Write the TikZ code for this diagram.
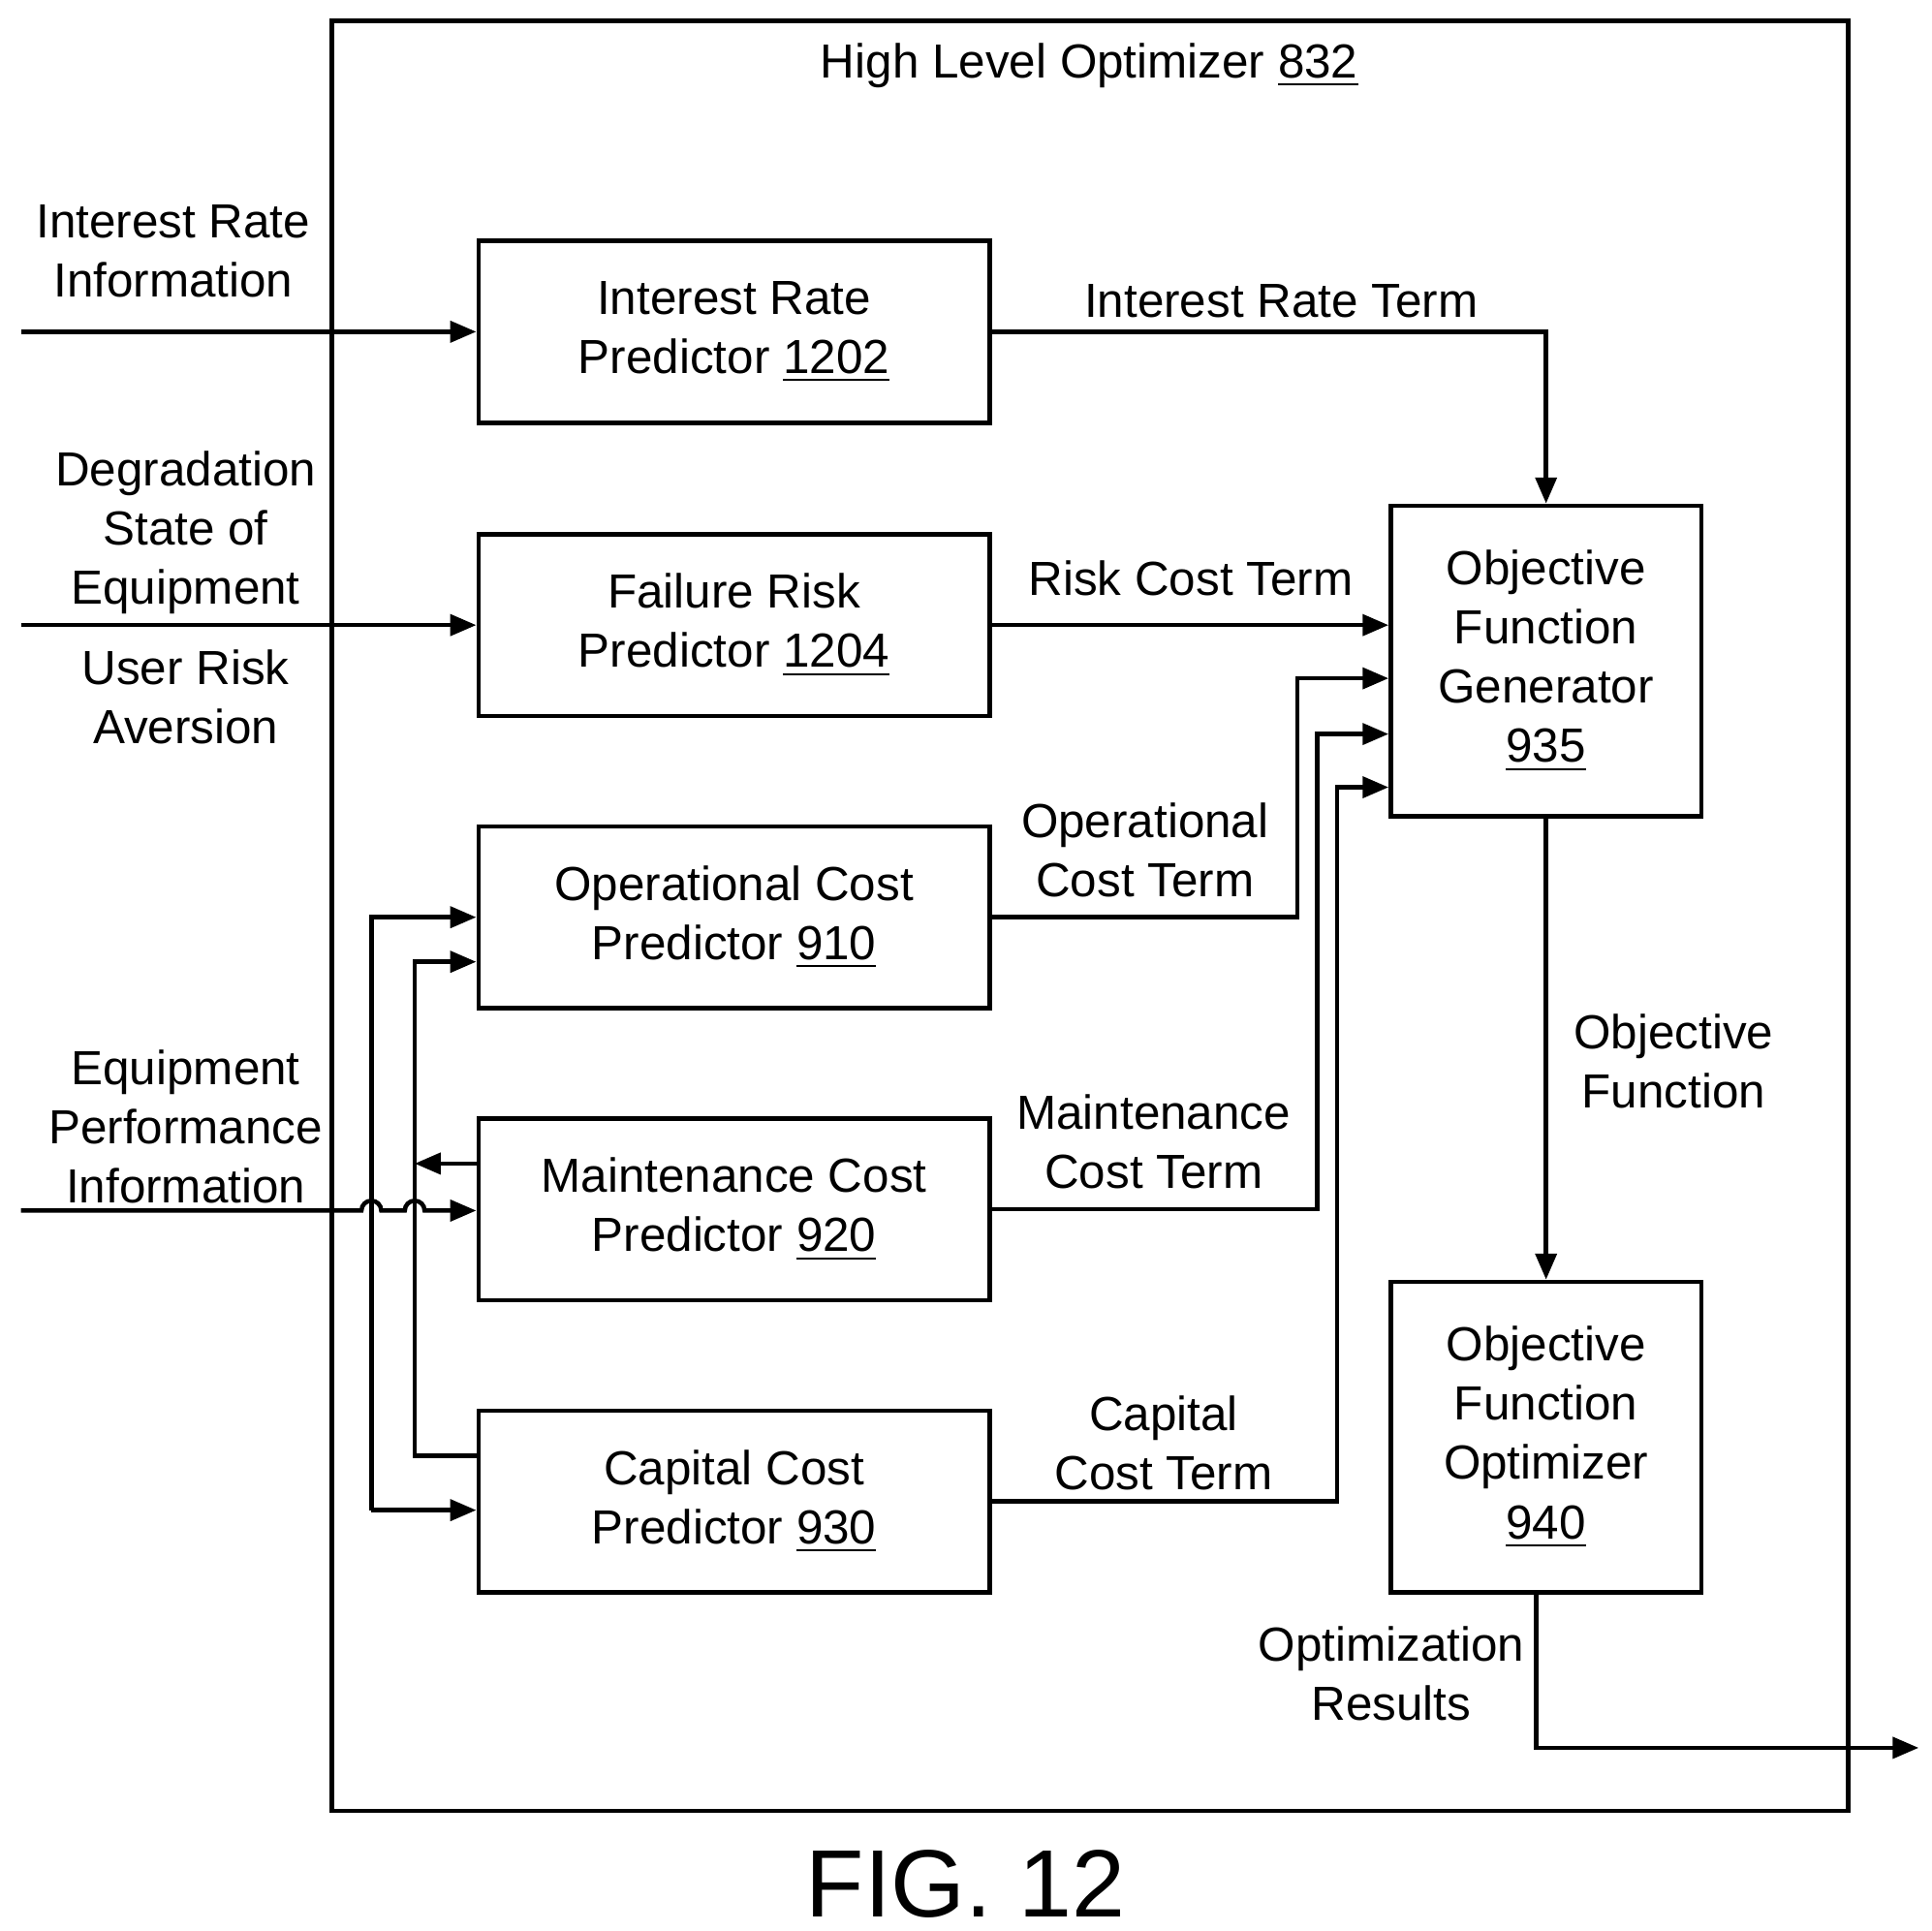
\documentclass[tikz,border=0pt]{standalone}
\usepackage{fontspec}
\setmainfont{Liberation Sans}
\usetikzlibrary{arrows.meta}
\tikzset{>={Triangle[length=2.1mm,width=1.7mm]}}
\tikzset{box/.style={draw, line width=1pt, minimum width=41.3mm, minimum height=14.7mm, align=center, font=\fontsize{11}{13.6}\selectfont}}
\tikzset{bigbox/.style={draw, line width=1pt, minimum width=25.1mm, minimum height=25.1mm, align=center, font=\fontsize{11}{13.6}\selectfont}}
\tikzset{lbl/.style={align=center, font=\fontsize{11}{13.6}\selectfont}}

\begin{document}
\begin{tikzpicture}[x=0.1mm, y=-0.1mm, line width=1pt]

    \useasboundingbox (0,0) rectangle (1560,1560);

    \draw (268,17) rectangle (1493,1463);
    \node[lbl] (title) at (880,53) {High Level Optimizer \underline{832}};

    \node[box] (irp) at (593,268) {Interest Rate\\Predictor \underline{1202}};
    \node[box] (frp) at (593,505) {Failure Risk\\Predictor \underline{1204}};
    \node[box] (ocp) at (593,741) {Operational Cost\\Predictor \underline{910}};
    \node[box] (mcp) at (593,977) {Maintenance Cost\\Predictor \underline{920}};
    \node[box] (ccp) at (593,1213) {Capital Cost\\Predictor \underline{930}};

    \node[bigbox] (ofg) at (1249,534) {Objective\\Function\\Generator\\\underline{935}};
    \node[bigbox] (ofo) at (1249,1161) {Objective\\Function\\Optimizer\\\underline{940}};

    % inputs
    \coordinate (irin) at (17,268);
    \coordinate (degin) at (17,505);
    \coordinate (eqin) at (17,978);
    \node[lbl] (irlbl) at (140,203) {Interest Rate\\Information};
    \node[lbl] (deglbl) at (150,430) {Degradation\\State of\\Equipment};
    \node[lbl] (urlbl) at (150,563) {User Risk\\Aversion};
    \node[lbl] (eqlbl) at (150,910) {Equipment\\Performance\\Information};

    \draw[->] (irin) -- (irp.west |- irin);
    \draw[->] (degin) -- (frp.west |- degin);
    \draw[->] (eqin) -- (292,978) arc (180:360:8) -- (327,978) arc (180:360:8) -- (mcp.west |- eqin);

    % feedback lines
    \coordinate (fa) at (300,741);
    \coordinate (fb) at (300,1220);
    \coordinate (fc) at (335,777);
    \coordinate (fd) at (335,1176);
    \draw[->] (fb) -- (fa) -- (ocp.west |- fa);
    \draw[->] (fb) -- (ccp.west |- fb);
    \draw[->] (ccp.west |- fd) -- (fd) -- (fc) -- (ocp.west |- fc);
    \draw[->] (mcp.west |- 0,940) -- (335,940);

    % terms
    \draw[->] (irp.east) -- (1249,268) -- (ofg.north);
    \node[lbl] (irterm) at (1035,243) {Interest Rate Term};
    \draw[->] (frp.east) -- (ofg.west |- frp.east);
    \node[lbl] (rcterm) at (962,467) {Risk Cost Term};
    \draw[->] (ocp.east) -- (1048,741) -- (1048,548) -- (ofg.west |- 0,548);
    \node[lbl] (octerm) at (925,687) {Operational\\Cost Term};
    \draw[->] (mcp.east) -- (1064,977) -- (1064,593) -- (ofg.west |- 0,593);
    \node[lbl] (mcterm) at (932,922) {Maintenance\\Cost Term};
    \draw[->] (ccp.east) -- (1080,1213) -- (1080,636) -- (ofg.west |- 0,636);
    \node[lbl] (ccterm) at (940,1166) {Capital\\Cost Term};

    \draw[->] (ofg.south) -- (ofo.north);
    \node[lbl] (oflbl) at (1352,857) {Objective\\Function};

    \coordinate (out) at (1550,1412);
    \draw[->] (1241,1286) -- (1241,1412) -- (out);
    \node[lbl] (orlbl) at (1124,1352) {Optimization\\Results};

    \node[font=\fontsize{22}{26}\selectfont] (fig) at (780,1522) {FIG. 12};

\end{tikzpicture}
\end{document}
